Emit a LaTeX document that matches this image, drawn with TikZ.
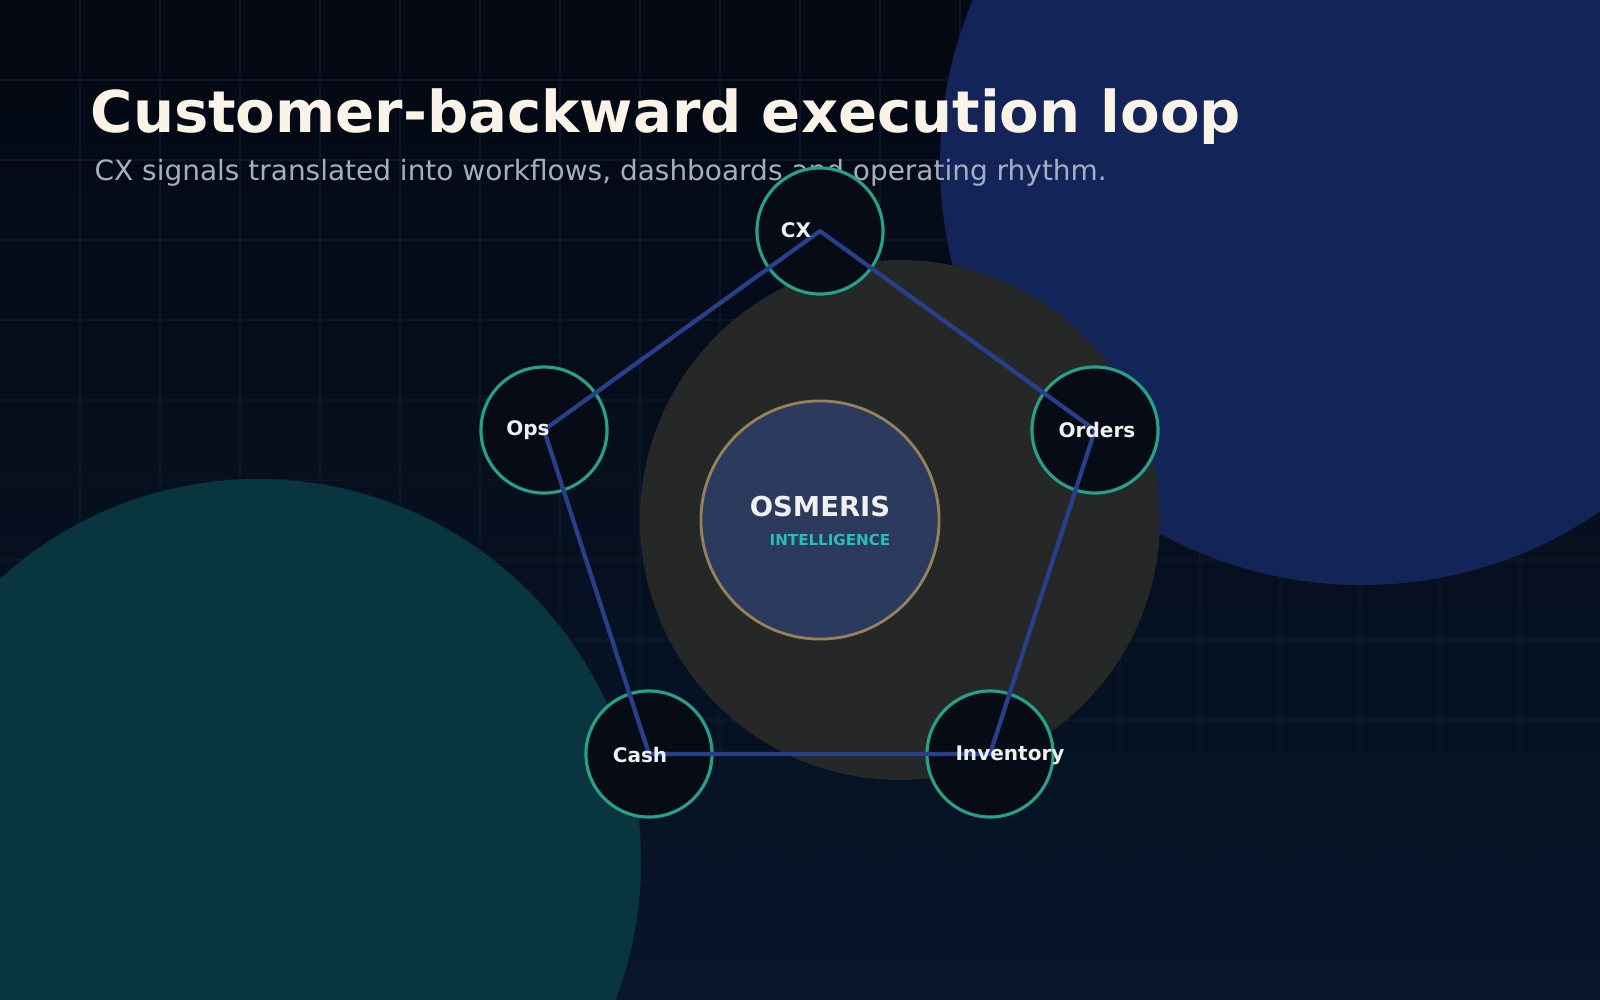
\documentclass[tikz,border=0pt]{standalone}
\usepackage{fontspec}
\setmainfont{DejaVu Sans}
\begin{document}
\begin{tikzpicture}[x=0.01cm,y=-0.01cm,
  ring/.style={circle,draw={rgb,255:red,38;green,160;blue,135},line width=0.9pt,fill={rgb,255:red,7;green,11;blue,22},minimum size=1.26cm,inner sep=0},
  lbl/.style={text=white!88!gray,font=\bfseries\fontsize{5.7}{6}\selectfont}]
\definecolor{bgtop}{HTML}{040812}
\definecolor{bgbot}{HTML}{07162A}
\definecolor{gridc}{HTML}{0A1728}
\useasboundingbox (0,0) rectangle (1600,1000);
\shade[top color=bgtop,bottom color=bgbot] (0,0) rectangle (1600,1000);
\foreach \x in {80,160,...,1520} \draw[gridc,line width=0.3pt] (\x,0)--(\x,1000);
\foreach \y in {80,160,...,960} \draw[gridc,line width=0.3pt] (0,\y)--(1600,\y);
\fill[color={rgb,255:red,19;green,36;blue,88}] (1362,163) circle (422);
\fill[color={rgb,255:red,9;green,54;blue,62}] (258,862) circle (383);
\fill[color={rgb,255:red,38;green,40;blue,40}] (900,520) circle (260);
\node[font=\bfseries\fontsize{16.4}{20}\selectfont,text={rgb,255:red,250;green,244;blue,232},anchor=base west,inner sep=0] (title) at (90,132) {Customer-backward execution loop};
\node[font=\fontsize{7.95}{9}\selectfont,text={rgb,255:red,165;green,175;blue,195},anchor=base west,inner sep=0] (sub) at (94,180) {CX signals translated into workflows, dashboards and operating rhythm.};
\node[circle,draw={rgb,255:red,150;green,130;blue,90},line width=0.8pt,fill={rgb,255:red,44;green,58;blue,94},minimum size=2.38cm] (core) at (820,520) {};
\node[ring] (cx) at (820,231) {};
\node[ring] (ops) at (544,430) {};
\node[ring] (ord) at (1095,430) {};
\node[ring] (cash) at (649,754) {};
\node[ring] (inv) at (990,754) {};
\draw[line width=1.2pt,color={rgb,255:red,40;green,64;blue,140},line join=round] (cx.center)--(ord.center)--(inv.center)--(cash.center)--(ops.center)--cycle;
\node[lbl] at (796,230) {CX};
\node[lbl] at (528,430) {Ops};
\node[lbl] at (1097,430) {Orders};
\node[lbl] at (640,755) {Cash};
\node[lbl] at (1010,755) {Inventory};
\node[font=\bfseries\fontsize{7.8}{9}\selectfont,text=white!88!gray] at (820,507) {OSMERIS};
\node[font=\bfseries\fontsize{4.3}{5}\selectfont,text={rgb,255:red,40;green,190;blue,190}] at (830,540) {INTELLIGENCE};
\end{tikzpicture}
\end{document}
